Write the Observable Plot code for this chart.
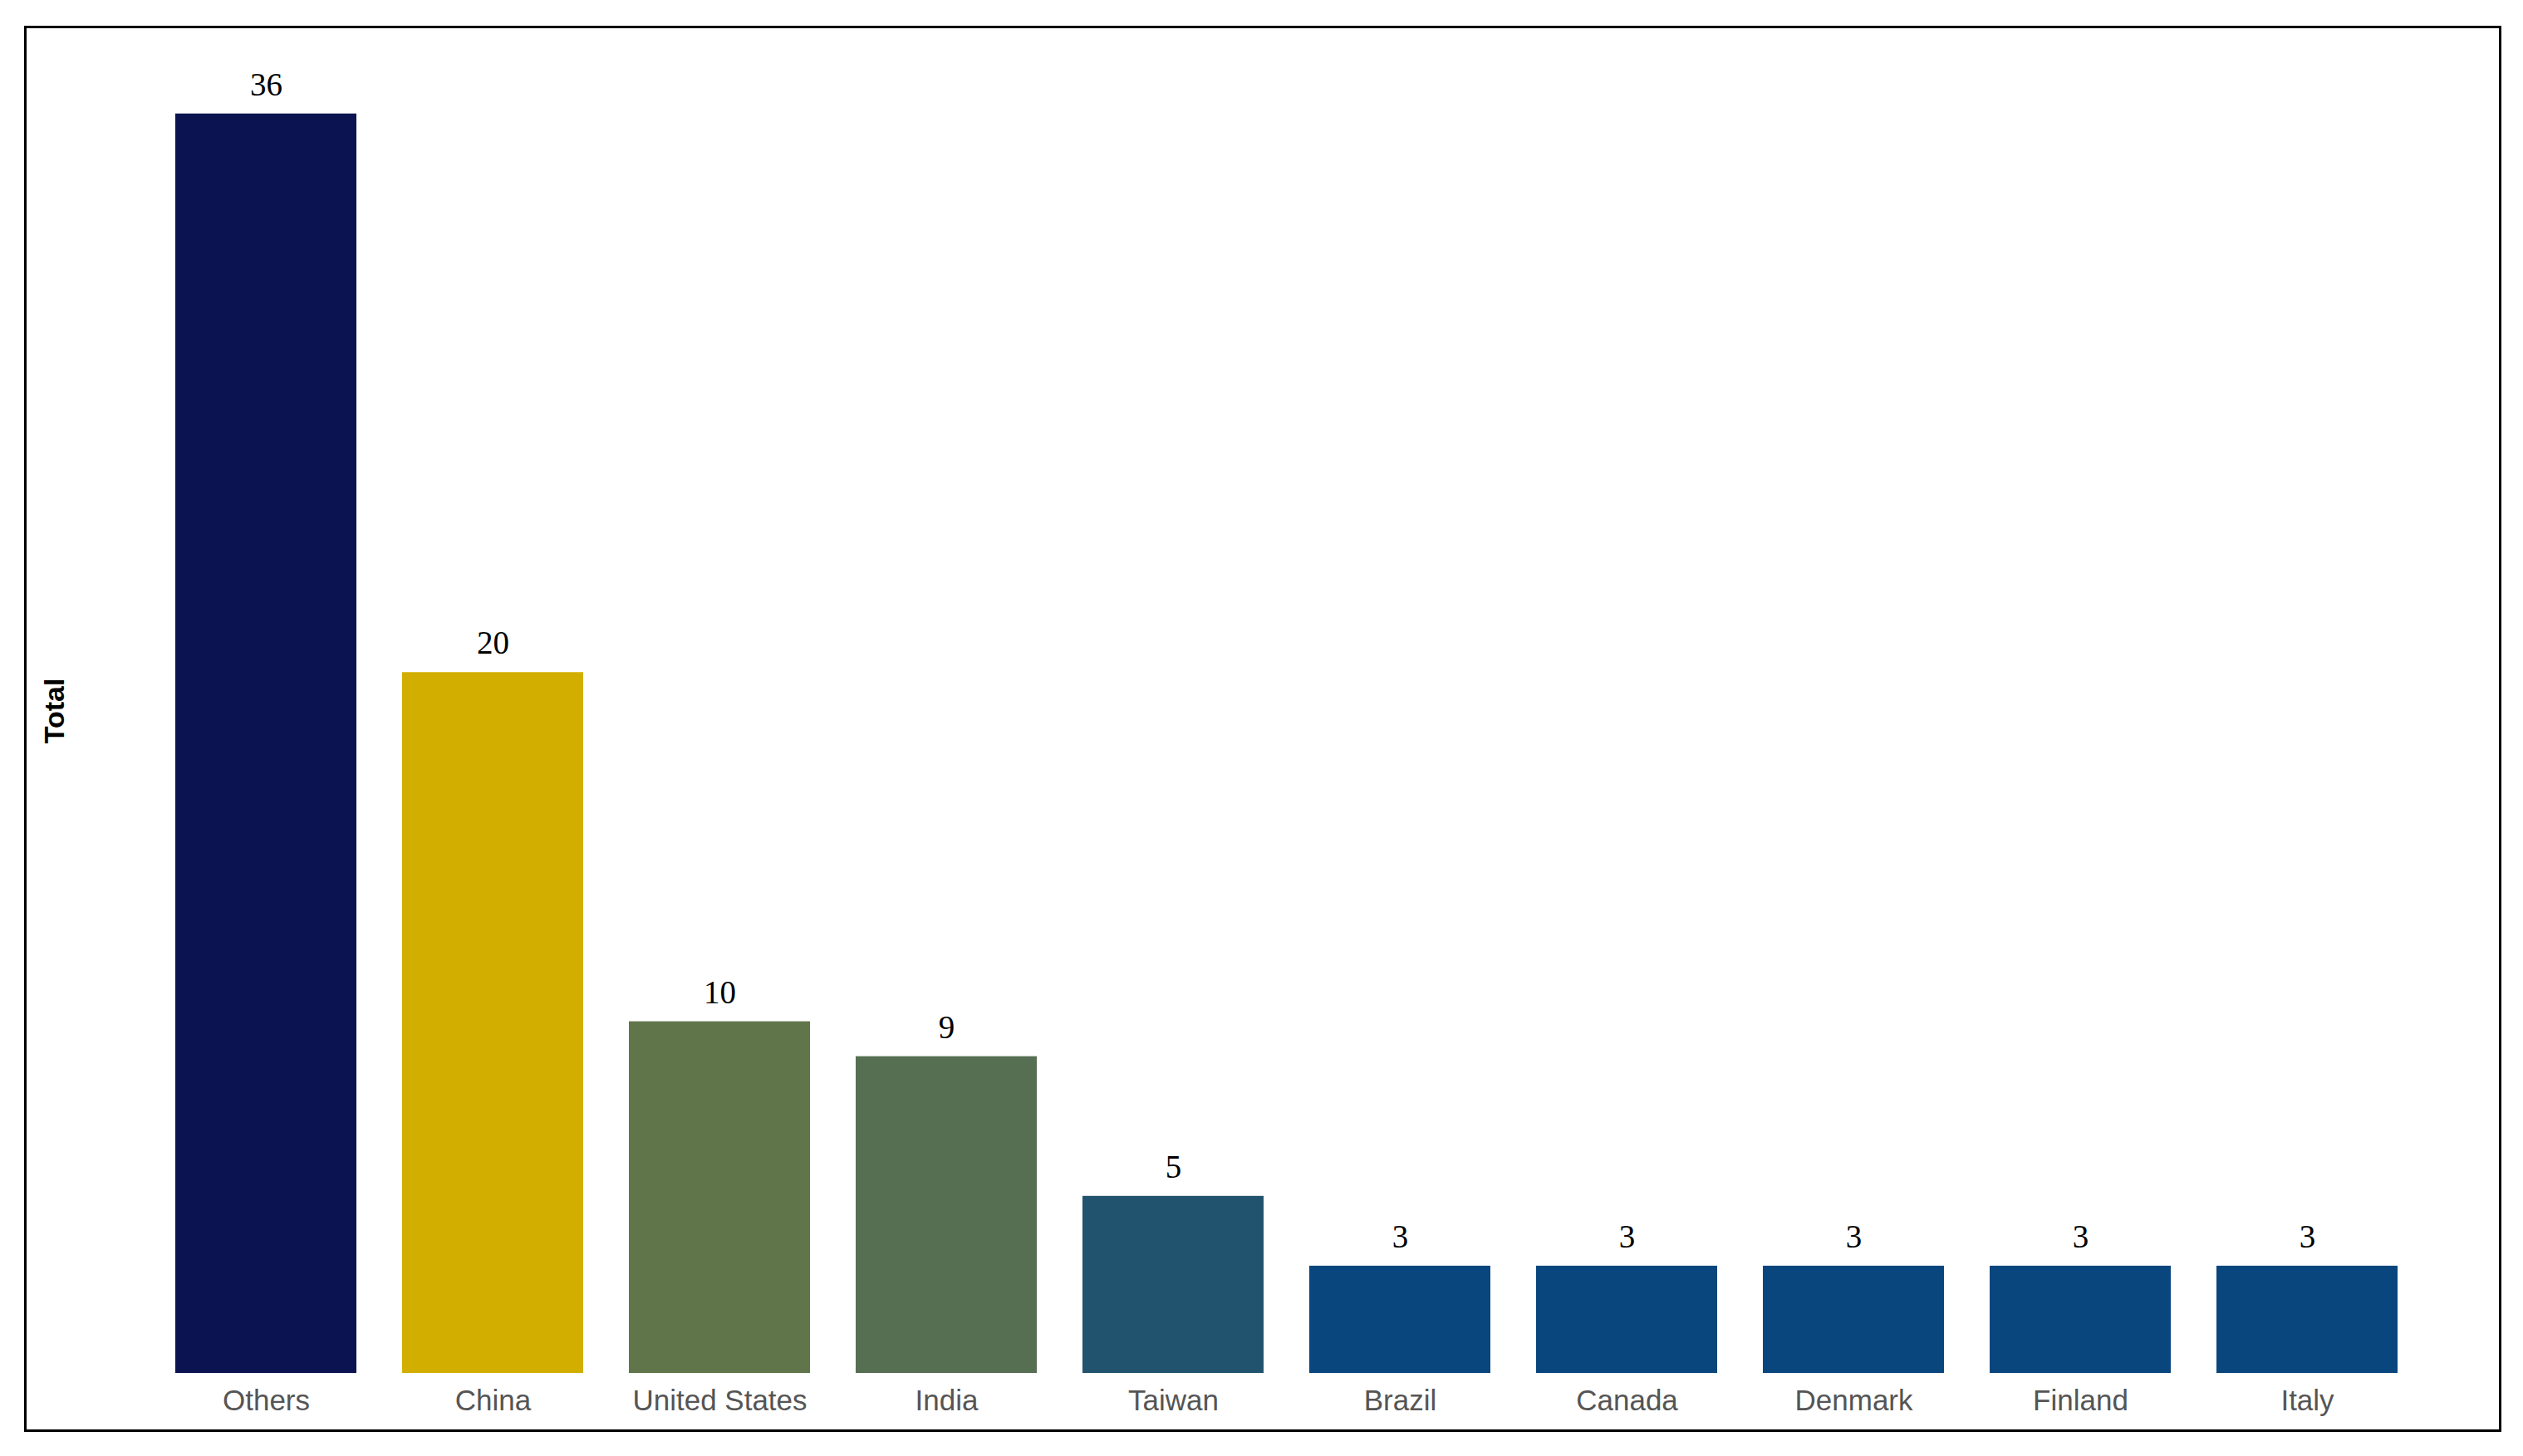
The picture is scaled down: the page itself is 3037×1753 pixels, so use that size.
<!DOCTYPE html>
<html>
<head>
<meta charset="utf-8">
<script src="https://cdn.jsdelivr.net/npm/d3@7"></script>
<script src="https://cdn.jsdelivr.net/npm/@observablehq/plot@0.6"></script>
<style>
  html, body { margin: 0; padding: 0; background: #fff; }
  #chart { position: absolute; left: 0; top: 0; }
  #frame { position: absolute; left: 29px; top: 31px; width: 2982px; height: 1693px;
           border: 3px solid #000; box-sizing: border-box; pointer-events: none; }
</style>
</head>
<body>
<div id="chart"></div>
<div id="frame"></div>
<script>
const countries = ["Others", "China", "United States", "India", "Taiwan", "Brazil", "Canada", "Denmark", "Finland", "Italy"];
const totals = [36, 20, 10, 9, 5, 3, 3, 3, 3, 3];
const barColors = ["#0b1450", "#d2ae00", "#61754a", "#566e52", "#22536e", "#0a467e", "#0a467e", "#0a467e", "#0a467e", "#0a467e"];
const yLabel = "Total";

const data = countries.map((c, i) => ({country: c, total: totals[i]}));

const chart = Plot.plot({
  width: 3037,
  height: 1753,
  marginLeft: 153,
  marginRight: 92,
  marginTop: 61,
  marginBottom: 103,
  style: {background: "white", overflow: "visible"},
  x: {domain: countries, padding: 0.2, label: null},
  y: {domain: [0, 37.8], axis: null},
  color: {domain: countries, range: barColors},
  marks: [
    Plot.barY(data, {x: "country", y: "total", fill: "country", insetBottom: -3}),
    Plot.text(data, {x: "country", y: "total", text: d => String(d.total), dy: -35,
      fontFamily: "Liberation Serif, Times New Roman, serif", fontSize: 39, fill: "#000"}),
    Plot.axisX({tickSize: 0, tickPadding: 23, fontSize: 35, fill: "#555",
      fontFamily: "Liberation Sans, Arial, sans-serif", label: null}),
    Plot.text([yLabel], {frameAnchor: "left", textAnchor: "middle", rotate: -90, dx: -87, text: d => d,
      fontSize: 34, fontWeight: "bold", fill: "#000",
      fontFamily: "Liberation Sans, Arial, sans-serif"})
  ]
});
document.getElementById("chart").appendChild(chart);
</script>
</body>
</html>
